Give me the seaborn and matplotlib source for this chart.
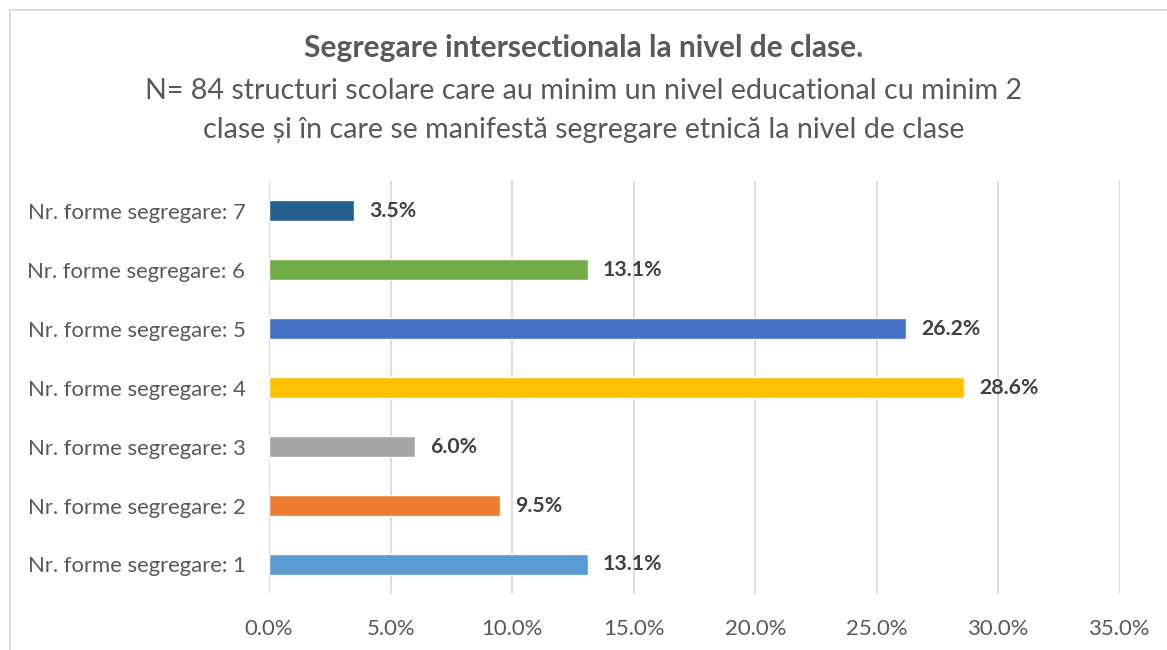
"""Horizontal bar chart: intersectional segregation at class level."""

import matplotlib
matplotlib.use("Agg")
import matplotlib.pyplot as plt
import pandas as pd
import seaborn as sns
from matplotlib.lines import Line2D

categories = [f"Nr. forme segregare: {i}" for i in [7, 6, 5, 4, 3, 2, 1]]
values = [3.5, 13.1, 26.2, 28.6, 6.0, 9.5, 13.1]
colors = ["#255E91", "#70AD47", "#4472C4", "#FFC000", "#A5A5A5", "#ED7D31", "#5B9BD5"]
x_ticks = [0, 5, 10, 15, 20, 25, 30, 35]

title = "Segregare intersectionala la nivel de clase."
subtitle_lines = ["N= 84 structuri scolare care au minim un nivel educational cu minim 2",
                  "clase și în care se manifestă segregare etnică la nivel de clase"]

TEXT = "#595959"

sns.set_style("white")
plt.rcParams["font.family"] = ["Lato", "DejaVu Sans"]

W, H = 1167, 650
fig = plt.figure(figsize=(W / 100, H / 100), dpi=100)
ax = fig.add_axes([269 / W, 1 - 594 / H, (1120 - 269) / W, (594 - 181) / H])

df = pd.DataFrame({"cat": categories, "val": values})
sns.barplot(data=df, y="cat", x="val", hue="cat", palette=colors, order=categories,
            width=0.355, legend=False, saturation=1, ax=ax)

ax.set_xlim(0, 35)
ax.set_xticks(x_ticks)
ax.set_xticklabels([f"{t:.1f}%" for t in x_ticks])
ax.xaxis.grid(True, color="#D9D9D9", linewidth=1.3)
ax.set_axisbelow(True)
for s in ax.spines.values():
    s.set_visible(False)
ax.set_xlabel("")
ax.set_ylabel("")
ax.tick_params(axis="both", length=0, labelsize=15.9, labelcolor=TEXT)
ax.tick_params(axis="x", pad=18)
ax.tick_params(axis="y", pad=17)

for i, v in enumerate(values):
    ax.annotate(f"{v:.1f}%", (v, i), xytext=(15, 0), textcoords="offset pixels",
                va="center", ha="left", fontsize=15.3, fontweight="bold", color="#404040")

fig.text(0.5, 1 - 48 / H, title, ha="center", va="center", fontsize=21.5,
         fontweight="bold", color=TEXT)
for k, line in enumerate(subtitle_lines):
    fig.text(0.5, 1 - (91 + 39 * k) / H, line, ha="center", va="center",
             fontsize=20.6, color=TEXT)

# chart border (left and top edges visible in the frame)
fig.add_artist(Line2D([9.5 / W, 9.5 / W], [0, 1 - 10 / H], transform=fig.transFigure,
                      color="#D9D9D9", linewidth=1.3))
fig.add_artist(Line2D([9.5 / W, 1], [1 - 10 / H, 1 - 10 / H], transform=fig.transFigure,
                      color="#D9D9D9", linewidth=1.3))

fig.savefig("out.png", dpi=100)
plt.close(fig)
